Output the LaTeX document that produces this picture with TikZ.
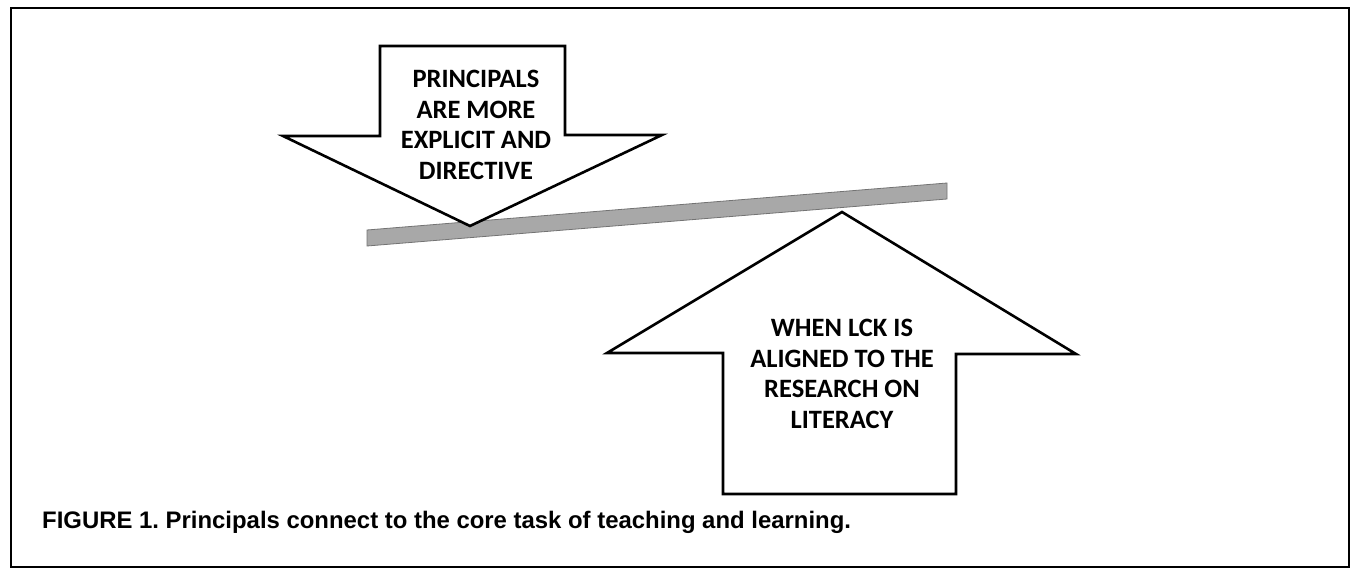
\documentclass[tikz,border=0pt]{standalone}
\usepackage{fontspec}
\setmainfont{Carlito}
\newfontfamily\capfont{Liberation Sans}
\frenchspacing
\begin{document}
\begin{tikzpicture}[x=1pt,y=-1pt,
  outline/.style={draw=black,line width=2.6pt,line join=miter,fill=white},
  arrowtext/.style={font=\fontsize{26.5}{30.6}\selectfont\bfseries,align=center,inner sep=0pt},
  beam/.style={fill={rgb,255:red,168;green,168;blue,168},draw={rgb,255:red,115;green,115;blue,115},line width=0.8pt}]
  \useasboundingbox (0,0) rectangle (1351,569);
  % outer frame
  \draw[line width=2.8pt] (11,8) rectangle (1349,567);
  % lever beam
  \path[beam] (367,230) -- (947,183) -- (947,199) -- (367,246) -- cycle;
  % downward arrow
  \draw[outline] (380,46) -- (565,46) -- (565,135) -- (662,135) -- (470,226)
    -- (283,136) -- (380,136) -- cycle;
  % upward arrow
  \draw[outline] (723,494) -- (956,494) -- (956,354) -- (1076,354) -- (842,212)
    -- (607,353) -- (723,353) -- cycle;
  \node[arrowtext] (down) at (476,125) {PRINCIPALS\\ARE MORE\\EXPLICIT AND\\DIRECTIVE};
  \node[arrowtext] (up) at (842,374) {WHEN LCK IS\\ALIGNED TO THE\\RESEARCH ON\\LITERACY};
  \node[anchor=base west,inner sep=0pt,font=\capfont\fontsize{23.9}{26}\selectfont\bfseries] (caption) at (42,528)
    {FIGURE 1. Principals connect to the core task of teaching and learning.};
\end{tikzpicture}
\end{document}
